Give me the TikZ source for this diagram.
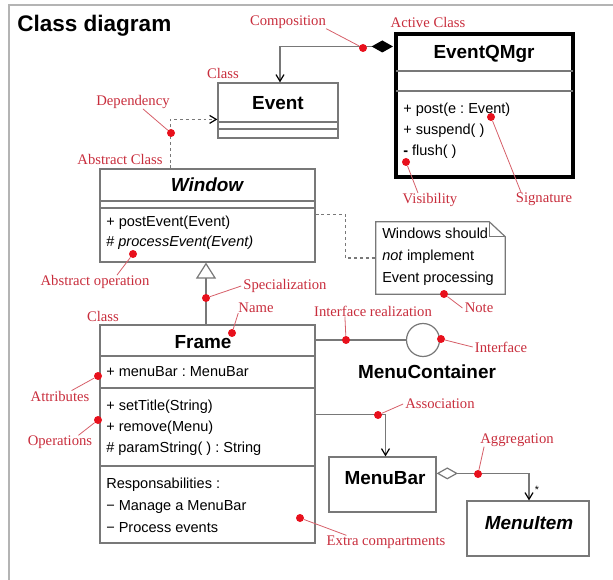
\documentclass[tikz,border=0pt]{standalone}
\usepackage{fontspec}
\setmainfont{Liberation Sans}
\newfontfamily\annofont{Liberation Serif}
\usetikzlibrary{arrows.meta,calc,fit}
\frenchspacing

\definecolor{boxgray}{RGB}{120,120,120}
\definecolor{framegray}{RGB}{180,180,180}
\definecolor{annored}{RGB}{200,45,60}
\definecolor{dotred}{RGB}{232,16,28}
\definecolor{leadred}{RGB}{214,95,105}

\tikzset{
  classbox/.style={draw=boxgray, line width=0.9pt, inner sep=0pt},
  activebox/.style={draw=black, line width=2.3pt, inner sep=0pt},
  sepline/.style={draw=boxgray, line width=0.9pt},
  cname/.style={font=\fontsize{14.2}{16}\selectfont\bfseries, inner sep=0pt},
  member/.style={font=\fontsize{10.9}{13}\selectfont, anchor=west, inner sep=0pt,
                 text height=8pt, text depth=2.5pt},
  anno/.style={font=\annofont\fontsize{11}{13}\selectfont, text=annored, inner sep=0pt},
  rdot/.style={circle, fill=dotred, inner sep=0pt, minimum size=6pt},
  leader/.style={draw=leadred, line width=0.6pt},
  conn/.style={draw=boxgray, line width=0.9pt},
  barb/.tip={Straight Barb[length=5pt, width=6pt, line width=0.9pt, color=black]},
}

\begin{document}
\begin{tikzpicture}[x=0.75pt, y=-0.75pt]
\useasboundingbox (0,0) rectangle (613,580);

% outer frame
\draw[framegray, line width=1.2pt] (9,580) -- (9,5) -- (613,5);
\node[anchor=west, inner sep=0pt, font=\fontsize{16.9}{20}\selectfont\bfseries] (title) at (17,26) {Class diagram};

% ---------- classes ----------
\node[classbox, fit={(218,83) (338,138)}] (event) {};
\draw[sepline] (218,122) -- (338,122);
\draw[sepline] (218,129) -- (338,129);
\node[cname] (event-name) at (278,103) {Event};

\node[activebox, fit={(396,34) (573,177)}] (eqm) {};
\draw[sepline] (396,71) -- (573,71);
\draw[sepline] (396,91) -- (573,91);
\node[cname] (eqm-name) at (484,54) {EventQMgr};
\node[member] (eqm-op1) at (403,110) {+ post(e : Event)};
\node[member] (eqm-op2) at (403,131) {+ suspend( )};
\node[member] (eqm-op3) at (403,152) {\textbf{-} flush( )};

\node[classbox, fit={(100,169) (315,262)}] (window) {};
\draw[sepline] (100,201) -- (315,201);
\draw[sepline] (100,208) -- (315,208);
\node[cname, font=\fontsize{14.2}{16}\selectfont\bfseries\itshape] (window-name) at (207,185) {Window};
\node[member] (window-op1) at (106,223) {+ postEvent(Event)};
\node[member] (window-op2) at (106,243) {\# \textit{processEvent(Event)}};

\node[classbox, fit={(100,325) (315,543)}] (frame) {};
\draw[sepline] (100,356) -- (315,356);
\draw[sepline] (100,388) -- (315,388);
\draw[sepline] (100,466) -- (315,466);
\node[cname] (frame-name) at (203,342) {Frame};
\node[member] (frame-at1) at (106,373) {+ menuBar : MenuBar};
\node[member] (frame-op1) at (106,407) {+ setTitle(String)};
\node[member] (frame-op2) at (106,428) {+ remove(Menu)};
\node[member] (frame-op3) at (106,449) {\# paramString( ) : String};
\node[member] (frame-rs0) at (106,485) {Responsabilities :};
\node[member] (frame-rs1) at (106,507) {− Manage a MenuBar};
\node[member] (frame-rs2) at (106,529) {− Process events};

\node[classbox, fit={(329,457) (436,512)}] (menubar) {};
\node[cname] (menubar-name) at (385,478) {MenuBar};

\node[classbox, fit={(467,501) (589,556)}] (menuitem) {};
\node[cname, font=\fontsize{14.2}{16}\selectfont\bfseries\itshape] (menuitem-name) at (529,523) {MenuItem};

% interface
\node[circle, draw=boxgray, line width=0.9pt, minimum size=24.75pt, inner sep=0pt] (iface) at (423,340) {};
\node[cname] (iface-name) at (427,372) {MenuContainer};

% note with folded corner
\node[inner sep=0pt, fit={(376,222) (505,294)}] (note) {};
\draw[sepline] (note.north west) -- ($(note.north east)+(-16,0)$) -- ($(note.north east)+(0,15)$)
  -- (note.south east) -- (note.south west) -- cycle;
\draw[sepline] ($(note.north east)+(-16,0)$) |- ($(note.north east)+(0,15)$);
\node[member] (note-l1) at (382,235) {Windows should};
\node[member] (note-l2) at (382,257) {\textit{not} implement};
\node[member] (note-l3) at (382,279) {Event processing};

% ---------- relations ----------
\draw[conn, {Diamond[length=16pt, width=9pt, color=black, fill=black]}-barb]
  ($(eqm.north west)+(-1.5,14)$) -| ($(event.north)+(2,0)$);
\draw[conn, dash pattern=on 2.2pt off 2.2pt, -barb]
  ($(window.north west)+(71,0)$) |- ($(event.north west)+(0,37)$);
\draw[conn, dash pattern=on 2.2pt off 2.2pt]
  ($(window.north east)+(0,46)$) -| ($(note.west)+(-30,0)$) -- (note.west);
\draw[conn, -{Triangle[open, length=12pt, width=15pt, fill=white]}]
  ($(frame.north)+(-1.5,0)$) -- ($(window.south)+(-1.5,0)$);
\draw[conn] (frame.east |- iface.west) -- (iface.west);
\draw[conn, -barb] ($(frame.north east)+(0,90)$) -| ($(menubar.north)+(3,0)$);
\draw[conn, {Diamond[open, length=16pt, width=9pt, fill=white]}-barb]
  ($(menubar.north east)+(0,17)$) -| ($(menuitem.north)+(1,0)$);
\node[inner sep=0pt, font=\fontsize{8}{9}\selectfont] (star) at (537,490) {*};

% ---------- annotations ----------
\node[anno] (l-comp) at (288,22) {Composition};
\node[anno] (l-active) at (428,22) {Active Class};
\node[anno] (l-class1) at (223,73) {Class};
\node[anno] (l-dep) at (133,102) {Dependency};
\node[anno] (l-abscl) at (120,159) {Abstract Class};
\node[anno] (l-vis) at (430,200) {Visibility};
\node[anno] (l-sig) at (544,199) {Signature};
\node[anno] (l-absop) at (95,282) {Abstract operation};
\node[anno] (l-spec) at (285,286) {Specialization};
\node[anno] (l-name) at (256,308) {Name};
\node[anno] (l-class2) at (103,316) {Class};
\node[anno] (l-note) at (479,308) {Note};
\node[anno] (l-ireal) at (373,311) {Interface realization};
\node[anno] (l-iface) at (501,347) {Interface};
\node[anno] (l-attr) at (60,396) {Attributes};
\node[anno] (l-ops) at (60,442) {Operations};
\node[anno] (l-assoc) at (440,404) {Association};
\node[anno] (l-aggr) at (517,440) {Aggregation};
\node[anno] (l-extra) at (386,542) {Extra compartments};

\node[rdot] (d-comp) at (363,48) {};
\node[rdot] (d-dep) at (171,133) {};
\node[rdot] (d-vis) at (406,162) {};
\node[rdot] (d-sig) at (491,117) {};
\node[rdot] (d-absop) at (133,254) {};
\node[rdot] (d-spec) at (206,298) {};
\node[rdot] (d-name) at (232,333) {};
\node[rdot] (d-note) at (444,294) {};
\node[rdot] (d-ireal) at (346,340) {};
\node[rdot] (d-iface) at (441,339) {};
\node[rdot] (d-attr) at (98,376) {};
\node[rdot] (d-ops) at (98,420) {};
\node[rdot] (d-assoc) at (378,415) {};
\node[rdot] (d-aggr) at (478,474) {};
\node[rdot] (d-extra) at (300,518) {};

\draw[leader] (l-comp.south east) -- (d-comp);
\draw[leader] ($(l-dep.south)+(10,0)$) -- (d-dep);
\draw[leader] ($(l-vis.north)+(-12,0)$) -- (d-vis);
\draw[leader] ($(l-sig.north)+(-23,0)$) -- (d-sig);
\draw[leader] ($(l-absop.north)+(22,0)$) -- (d-absop);
\draw[leader] ($(l-spec.west)+(-2,0)$) -- (d-spec);
\draw[leader] (l-name.south west) -- (d-name);
\draw[leader] ($(l-note.west)+(-2,0)$) -- (d-note);
\draw[leader] ($(l-ireal.south west)+(31,0)$) -- (d-ireal);
\draw[leader] ($(l-iface.west)+(-2,0)$) -- (d-iface);
\draw[leader] ($(l-attr.north east)+(-18,0)$) -- (d-attr);
\draw[leader] ($(l-ops.north east)+(-14,0)$) -- (d-ops);
\draw[leader] ($(l-assoc.west)+(-2,0)$) -- (d-assoc);
\draw[leader] ($(l-aggr.south west)+(4,0)$) -- (d-aggr);
\draw[leader] ($(l-extra.north west)+(20,0)$) -- (d-extra);
\end{tikzpicture}
\end{document}
